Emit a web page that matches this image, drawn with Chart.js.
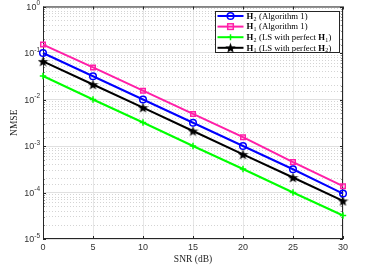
<!DOCTYPE html>
<html>
<head>
<meta charset="utf-8">
<script src="https://cdn.jsdelivr.net/npm/chart.js@4.4.0/dist/chart.umd.min.js"></script>
<style>
  html, body { margin: 0; padding: 0; background: #fff; }
  canvas { display: block; }
</style>
</head>
<body>
<canvas id="myChart" width="366" height="267"></canvas>
<script>
'use strict';

// chart data

let snr = [0, 5, 10, 15, 20, 25, 30];
let nmseH2Alg = [0.1, 0.0316, 0.01, 0.00316, 0.001, 0.000316, 0.000095];
let nmseH1Alg = [0.152, 0.049, 0.0155, 0.0049, 0.00155, 0.00045, 0.000137];
let nmseH2LS = [0.032, 0.01, 0.0032, 0.001, 0.00032, 0.0001, 0.000032];
let nmseH1LS = [0.066, 0.021, 0.0067, 0.0021, 0.00066, 0.00021, 0.000066];
let seriesNames = [
  'H_2 (Algorithm 1)',
  'H_1 (Algorithm 1)',
  'H_2 (LS with perfect H_1)',
  'H_1 (LS with perfect H_2)'
];
let xTicks = [0, 5, 10, 15, 20, 25, 30];
let yTickExps = [0, -1, -2, -3, -4, -5];

let sansFont = '"Liberation Sans", Arial, sans-serif';
let serifFont = '"Liberation Serif", "Times New Roman", serif';

// filled star marker

function makeStar(size, color) {
  let c = document.createElement('canvas');
  c.width = size;
  c.height = size;
  let g = c.getContext('2d');
  let r = size / 2;
  let ri = r * 0.42;
  g.beginPath();
  for (let i = 0; i < 10; i++) {
    let rad = i % 2 === 0 ? r : ri;
    let a = -Math.PI / 2 + i * Math.PI / 5;
    let px = r + rad * Math.cos(a);
    let py = r + 0.5 + rad * Math.sin(a);
    if (i === 0) g.moveTo(px, py); else g.lineTo(px, py);
  }
  g.closePath();
  g.fillStyle = color;
  g.fill();
  return c;
}

let starImg = makeStar(11, '#000');

// draws "H_2" style text with bold H and subscript

function drawRich(ctx, text, x, y) {
  let parts = text.split(/(H_\d)/);
  ctx.textAlign = 'left';
  ctx.textBaseline = 'middle';
  parts.forEach(function (p) {
    if (p === '') return;
    if (/^H_\d$/.test(p)) {
      ctx.font = 'bold 8.7px ' + serifFont;
      ctx.fillText('H', x, y);
      x += ctx.measureText('H').width;
      ctx.font = '6px ' + serifFont;
      ctx.fillText(p.charAt(2), x + 0.3, y + 2.6);
      x += ctx.measureText(p.charAt(2)).width + 0.6;
    } else {
      ctx.font = '8.7px ' + serifFont;
      ctx.fillText(p, x, y);
      x += ctx.measureText(p).width;
    }
  });
}

let matlabAxes = {
  id: 'matlabAxes',
  beforeDatasetsDraw: function (chart) {
    let ctx = chart.ctx;
    let a = chart.chartArea;
    let xs = chart.scales.x;
    let ys = chart.scales.y;
    ctx.save();
    ctx.strokeStyle = '#262626';
    ctx.lineWidth = 1;
    ctx.strokeRect(a.left + 0.5, a.top + 0.5, a.right - a.left - 1, a.bottom - a.top - 1);
    ctx.beginPath();
    xTicks.forEach(function (v) {
      let px = Math.round(xs.getPixelForValue(v)) + 0.5;
      ctx.moveTo(px, a.bottom);
      ctx.lineTo(px, a.bottom - 3);
      ctx.moveTo(px, a.top);
      ctx.lineTo(px, a.top + 3);
    });
    ys.ticks.forEach(function (t) {
      let py = Math.round(ys.getPixelForValue(t.value)) + 0.5;
      let major = Math.abs(Math.log10(t.value) - Math.round(Math.log10(t.value))) < 1e-6;
      let len = major ? 3 : 1.5;
      ctx.moveTo(a.left, py);
      ctx.lineTo(a.left + len, py);
      ctx.moveTo(a.right, py);
      ctx.lineTo(a.right - len, py);
    });
    ctx.stroke();

    // tick labels
    ctx.fillStyle = '#333';
    ctx.textBaseline = 'middle';
    ctx.textAlign = 'center';
    ctx.font = '9px ' + sansFont;
    xTicks.forEach(function (v) {
      ctx.fillText(String(v), xs.getPixelForValue(v), a.bottom + 8.5);
    });
    yTickExps.forEach(function (e) {
      let py = ys.getPixelForValue(Math.pow(10, e));
      ctx.font = '6.5px ' + sansFont;
      let expStr = String(e);
      let ew = ctx.measureText(expStr).width;
      ctx.font = '9px ' + sansFont;
      let bw = ctx.measureText('10').width;
      let right = a.left - 3;
      ctx.textAlign = 'left';
      ctx.fillText('10', right - ew - bw, py + 1);
      ctx.font = '6.5px ' + sansFont;
      ctx.fillText(expStr, right - ew, py - 3);
    });

    // axis titles
    ctx.fillStyle = '#222';
    ctx.font = '9.5px ' + serifFont;
    ctx.textAlign = 'center';
    ctx.fillText('SNR (dB)', (a.left + a.right) / 2, a.bottom + 20);
    ctx.save();
    ctx.translate(14, (a.top + a.bottom) / 2);
    ctx.rotate(-Math.PI / 2);
    ctx.fillText('NMSE', 0, 0);
    ctx.restore();
    ctx.restore();
  },
  afterDraw: function (chart) {
    // legend box in the upper right corner
    let ctx = chart.ctx;
    let bx = 215.5, by = 11.5, bw = 124, bh = 41;
    ctx.save();
    ctx.fillStyle = '#fff';
    ctx.fillRect(bx, by, bw, bh);
    ctx.strokeStyle = '#262626';
    ctx.lineWidth = 1;
    ctx.strokeRect(bx, by, bw, bh);
    chart.data.datasets.forEach(function (ds, i) {
      let ry = by + 4.5 + i * 10.6;
      ctx.strokeStyle = ds.borderColor;
      ctx.lineWidth = 2;
      ctx.beginPath();
      ctx.moveTo(bx + 2, ry);
      ctx.lineTo(bx + 28, ry);
      ctx.stroke();
      let mx = bx + 15;
      ctx.lineWidth = 1.5;
      if (ds.pointStyle === 'circle') {
        ctx.beginPath();
        ctx.arc(mx, ry, 3.3, 0, Math.PI * 2);
        ctx.stroke();
      } else if (ds.pointStyle === 'rect') {
        ctx.strokeRect(mx - 2.8, ry - 2.8, 5.6, 5.6);
      } else if (ds.pointStyle === 'cross') {
        ctx.beginPath();
        ctx.moveTo(mx - 3, ry);
        ctx.lineTo(mx + 3, ry);
        ctx.moveTo(mx, ry - 3);
        ctx.lineTo(mx, ry + 3);
        ctx.stroke();
      } else {
        ctx.drawImage(starImg, mx - 5.5, ry - 5.5);
      }
      ctx.fillStyle = '#000';
      drawRich(ctx, seriesNames[i], bx + 31, ry + 0.5);
    });
    ctx.restore();
  }
};

function lineSet(name, values, color, style, radius) {
  return {
    label: name,
    data: values.map(function (v, i) { return { x: snr[i], y: v }; }),
    borderColor: color,
    backgroundColor: 'transparent',
    borderWidth: 2,
    pointStyle: style,
    pointRadius: radius,
    pointBorderColor: color,
    pointBackgroundColor: 'transparent',
    pointBorderWidth: 1.5,
    tension: 0,
    clip: false
  };
}

let datasets = [
  lineSet(seriesNames[0], nmseH2Alg, '#0000ff', 'circle', 3.3),
  lineSet(seriesNames[1], nmseH1Alg, '#ff1fa8', 'rect', 3.2),
  lineSet(seriesNames[2], nmseH2LS, '#00ff00', 'cross', 3.2),
  lineSet(seriesNames[3], nmseH1LS, '#000000', starImg, 5)
];

let config = {
  type: 'line',
  data: { datasets: datasets },
  options: {
    responsive: false,
    animation: false,
    devicePixelRatio: 1,
    layout: { padding: { left: 43, right: 23, top: 6, bottom: 28 } },
    plugins: { legend: { display: false }, tooltip: { enabled: false } },
    scales: {
      x: {
        type: 'linear',
        min: 0,
        max: 30,
        ticks: { display: false, stepSize: 5 },
        grid: { color: '#e6e6e6', drawTicks: false, lineWidth: 1 },
        border: { display: false }
      },
      y: {
        type: 'logarithmic',
        min: 1e-5,
        max: 1,
        ticks: { display: false },
        grid: {
          drawTicks: false,
          lineWidth: 1,
          color: function (c) {
            let v = c.tick ? c.tick.value : 1;
            let lg = Math.log10(v);
            return Math.abs(lg - Math.round(lg)) < 1e-6 ? '#e0e0e0' : '#d4d4d4';
          }
        },
        border: {
          display: false,
          dash: function (c) {
            let v = c.tick ? c.tick.value : 1;
            let lg = Math.log10(v);
            return Math.abs(lg - Math.round(lg)) < 1e-6 ? [] : [1, 2];
          }
        }
      }
    }
  },
  plugins: [matlabAxes]
};

let canvasChart = document.getElementById('myChart');
let myChart = new Chart(canvasChart, config);
</script>
</body>
</html>
